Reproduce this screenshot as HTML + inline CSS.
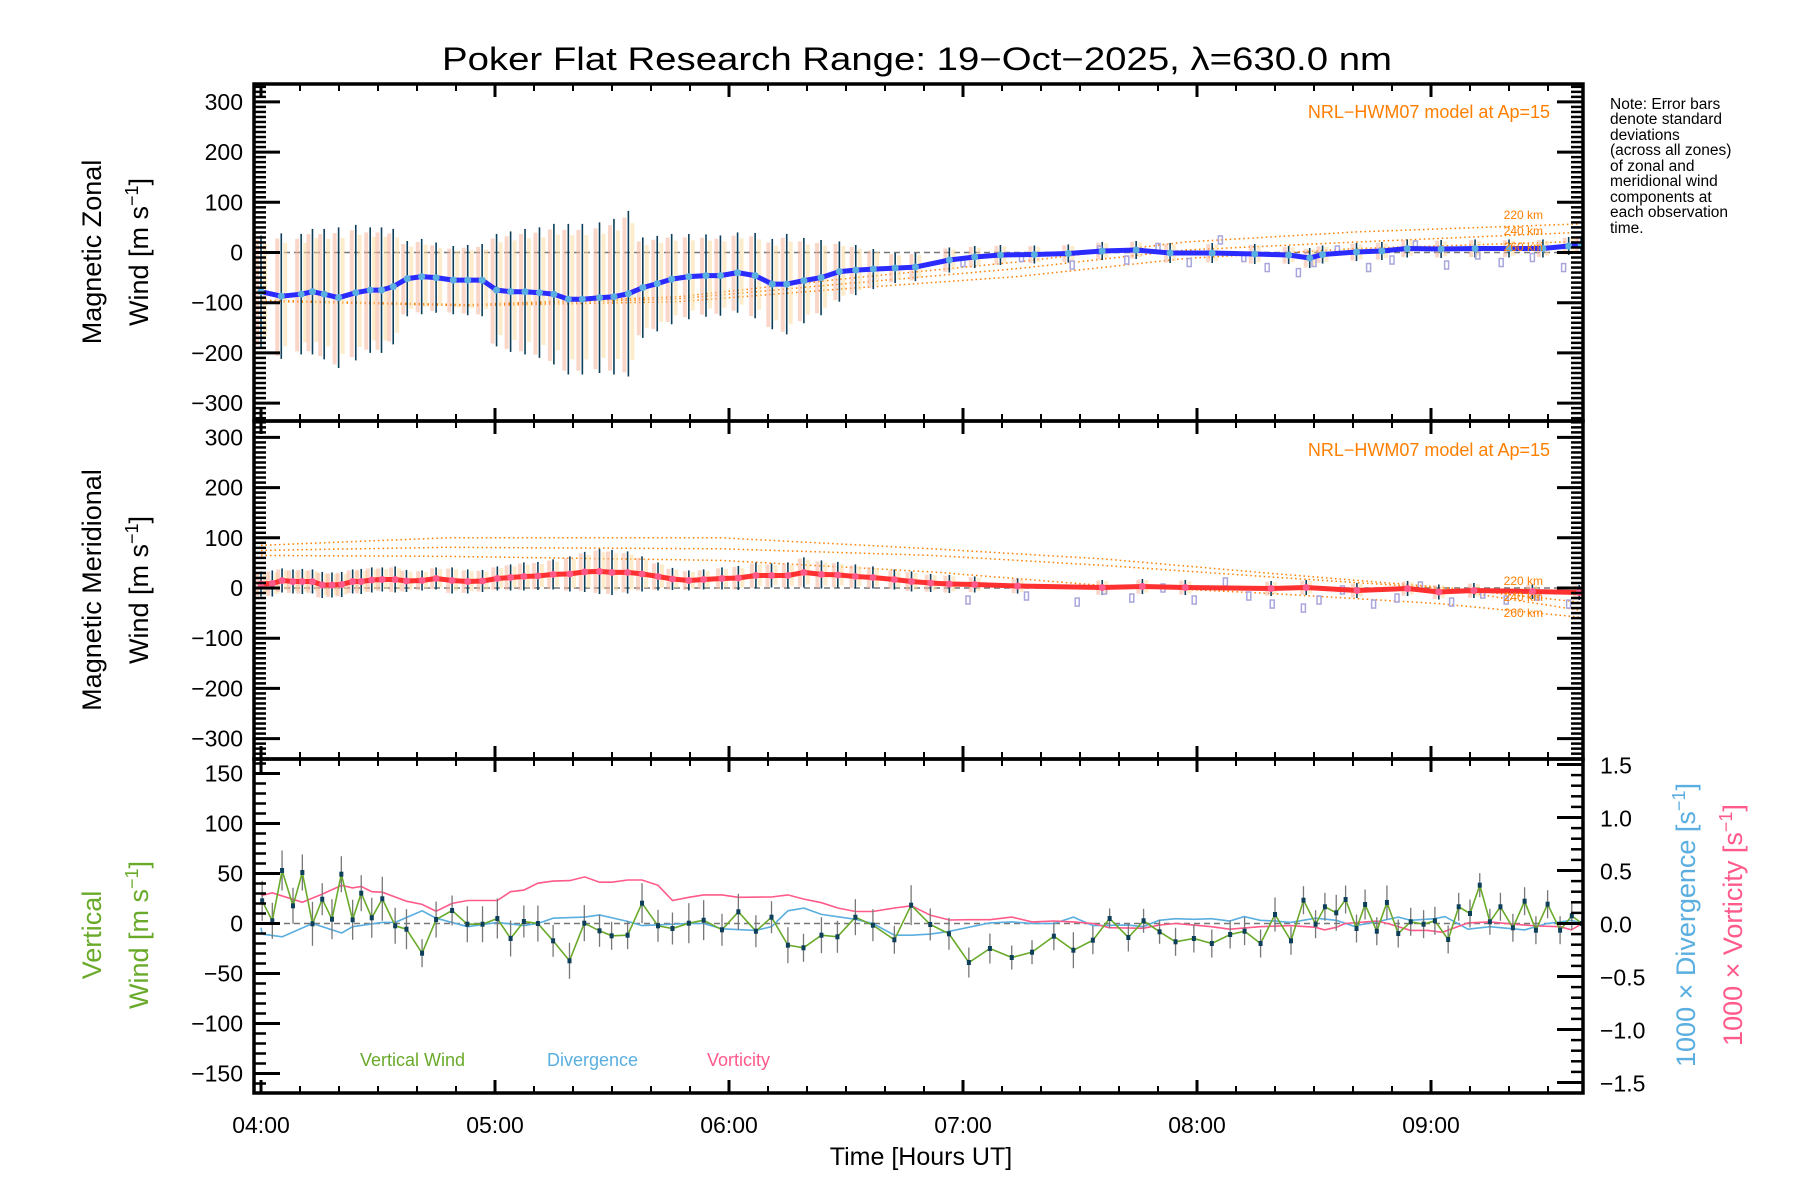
<!DOCTYPE html>
<html><head><meta charset="utf-8"><title>Poker Flat winds</title>
<style>html,body{margin:0;padding:0;background:#fff}svg{display:block;font-family:"Liberation Sans",sans-serif}</style>
</head><body>
<svg id="c" width="1800" height="1200" viewBox="0 0 1800 1200" xmlns="http://www.w3.org/2000/svg">
<text x="917" y="70" font-size="32" text-anchor="middle" textLength="950" lengthAdjust="spacingAndGlyphs">Poker Flat Research Range: 19−Oct−2025, λ=630.0 nm</text>
<g font-size="15.5">
<text x="1610" y="109">Note: Error bars</text><text x="1610" y="124">denote standard</text><text x="1610" y="140">deviations</text><text x="1610" y="155">(across all zones)</text><text x="1610" y="171">of zonal and</text><text x="1610" y="186">meridional wind</text><text x="1610" y="202">components at</text><text x="1610" y="217">each observation</text><text x="1610" y="233">time.</text>
</g>
<g id="marks"></g>
<g id="axes"></g>
</svg>
<script>
// ---- data (minutes after 04:00 UT) ----
const zonT=[0,5.2,10.3,13.2,16.2,19.9,24.3,28,30.9,33.9,37.5,41.2,44.9,49.3,53,56.7,60.4,64,67.7,71.4,75.1,78.8,82.4,86.8,90.5,94.2,97.9,101.6,105.3,109.7,114.1,117.8,122.2,126.7,131.1,134.8,139.2,143.6,148.3,152.5,157,162.6,167.8,176.5,183,189.6,198.3,207,215.7,224.4,233.1,243.9,254.8,263.5,268.9,272.2,280.9,287.4,293.9,302.6,311.3,320,328.7,335.3,338.5];
const zonV=[-78,-87,-83,-78,-83,-90,-80,-75,-75,-68,-52,-48,-50,-55,-55,-55,-75,-78,-78,-80,-83,-93,-93,-90,-88,-82,-70,-62,-53,-48,-46,-46,-40,-46,-63,-63,-56,-50,-38,-35,-33,-31,-29,-15,-9,-5,-4,-2,3,5,-1,-1,-3,-5,-11,-4,1,3,8,7,8,8,8,13,15];
const zonE=[112,125,120,125,130,140,135,125,125,115,75,75,70,68,70,72,112,120,125,130,140,150,150,150,155,165,100,95,90,85,82,80,80,85,90,100,85,75,60,50,40,30,28,25,22,20,18,18,18,18,20,20,20,18,20,18,18,18,18,18,18,18,18,18,18];
const merT=[0,2.9,5.4,8.2,10.6,13.2,15.7,18.2,20.7,23.5,25.7,28.4,31.1,34.4,37.3,41.3,44.9,49,53,56.8,60.6,64,67.4,71,74.9,79.2,83,86.8,90,94,97.7,101.8,105.5,109.7,113.5,118.2,122.4,126.9,130.9,135.1,139.2,143.7,147.9,152.4,156.9,162.4,166.8,171.7,176.5,183,194,215.7,226,237,259,268,281,294,302,311,326,338];
const merV=[8,9,15,13,13,13,6,6,7,13,13,16,17,17,14,15,19,15,13,14,19,21,23,24,27,28,32,33,31,31,28,23,18,15,17,19,20,25,25,25,31,27,26,23,21,17,13,10,8,7,4,1,3,1,-1,1,-5,-1,-8,-5,-7,-9];
const merE=[25,26,24,24,25,24,26,25,25,24,25,25,24,26,22,20,22,26,24,22,24,26,28,28,30,35,40,45,45,42,35,28,22,20,20,22,24,26,24,26,30,28,26,24,22,20,20,18,18,16,15,15,15,15,15,15,15,15,15,15,15,15];
const vwT=[0.3,2.9,5.4,8.2,10.6,13.2,15.7,18.2,20.6,23.5,25.7,28.4,31.1,34.4,37.3,41.3,44.9,49,52.9,56.8,60.6,64,67.4,71,74.9,79.1,82.9,86.8,89.9,94,97.7,101.8,105.5,109.7,113.5,118.2,122.4,126.9,130.9,135.1,139.1,143.7,147.8,152.4,156.9,162.4,166.7,171.6,176.4,181.5,186.9,192.5,197.7,203.3,208.3,213.3,217.6,222.4,226.3,230.4,234.5,239.2,243.8,248.5,252.2,256.3,260,264.1,267.3,270.4,272.8,275.7,278.1,280.9,283.1,286.1,288.7,291.6,294.8,298.1,301,304.4,307.1,310,312.5,315.1,317.8,321,324,326.9,329.9,333.1,336.1,338.7];
const vwV=[22.7,2.7,53,17.7,51,-0.3,24.3,4.3,49.3,3.7,30.3,5.7,24.7,-2.3,-5.7,-29.7,4,13,-0.7,-0.7,5,-15,2,0,-17.3,-37.3,0.3,-7.3,-12.3,-11.7,20.3,-2.3,-5,0.3,3.3,-6.3,11.7,-7.7,6.3,-21.7,-24.3,-11.7,-13.3,6.3,-1.7,-16.3,18.3,-1,-10.3,-39,-25,-34,-28.7,-12.7,-26.7,-16.7,5,-14,2.7,-8.3,-18.3,-15,-20,-11,-7.7,-20,9,-17.3,23.3,-0.7,16.7,10.7,24,-5,19,-7.7,21,-10,1.7,-0.7,2.7,-16,16.7,10,38.3,1.7,16.7,-4.3,22.3,-6.7,19.3,-6.7,7.7,0];
const vwE=[20,18,20,18,18,22,16,20,18,20,18,20,22,18,20,14,18,15,18,18,20,18,16,18,16,18,18,16,14,14,20,16,16,20,20,16,18,16,16,18,14,18,16,18,16,14,20,16,16,15,15,12,12,14,18,14,10,14,12,12,14,14,14,14,14,14,17,14,14,14,14,18,14,14,15,14,17,14,14,14,14,14,14,14,12,13,14,14,14,14,14,14,14,7];
const divT=[0,0.3,5.4,13.2,20.7,23.5,31.1,34.4,41.3,44.9,53,60.6,67.4,71,74.9,83,86.8,94,97.7,109.7,113.5,118.2,126.9,130.9,135.1,139.2,143.7,152.4,156.9,162.4,166.8,171.7,176.5,186.9,192.5,197.7,203.3,208.3,213.3,222.4,226.2,230.3,234.5,239.2,243.7,248.4,252.1,256.2,259.9,264,270.4,275.7,280.1,286,291.6,294.8,301,303.6,309.5,315.1,321,324,329.8,333.1,336,339];
const divV=[-0.04,-0.1,-0.125,0,-0.09,-0.03,0.01,0.01,0.12,0.05,-0.03,0.01,-0.02,0,0.05,0.06,0.08,0.02,-0.02,0,0,-0.05,-0.065,-0.03,0.12,0.145,0.086,0.04,0,-0.11,-0.11,-0.1,-0.074,0.006,0.015,0,0,0.06,-0.02,-0.015,-0.03,0.03,0.045,0.04,0.045,0.024,0.065,0.03,0.024,0.01,0.05,0.03,-0.024,0.015,0.06,0.03,0.045,0.065,-0.054,-0.03,-0.05,-0.06,0,0.015,0.03,0];
const vorT=[0,0.3,2.9,10.6,15.7,20.7,23.5,25.7,28.4,31.1,37.3,41.3,44.9,49,53,60.6,64,67.4,71,74.9,79.2,83,86.8,90,94,97.7,101.8,105.5,109.7,113.5,118.2,122.4,130.9,135.1,139.2,143.7,147.9,152.4,156.9,162.4,166.8,171.7,176.5,181.5,186.9,192.5,197.7,203.3,208.3,213.3,217.5,226.2,230.3,234.5,239.2,243.7,248.4,256.2,264,270.4,272.7,275.7,278,286,288.9,294.8,299.2,302.9,309.5,315.1,321,327.2,333.1,336,339];
const vorV=[0.277,0.265,0.29,0.2,0.277,0.36,0.336,0.35,0.3,0.295,0.21,0.18,0.116,0.19,0.217,0.217,0.3,0.315,0.38,0.4,0.405,0.44,0.39,0.39,0.41,0.41,0.36,0.217,0.247,0.27,0.27,0.247,0.25,0.27,0.23,0.196,0.146,0.113,0.113,0.146,0.167,0.077,0.033,0.036,0.036,0.06,0.015,0.024,0.015,0,-0.04,-0.045,-0.015,0,-0.015,-0.03,-0.054,-0.03,-0.02,-0.036,-0.06,-0.036,0,0.024,0,-0.065,-0.065,-0.083,0.006,0.015,-0.006,-0.024,-0.03,-0.06,0.006];
const modT=[0,53,107,150,194,237,281,338];
const mz220=[-95,-104,-88,-52,-19,21,41,57];
const mz240=[-96,-105,-92,-62,-32,5,21,40];
const mz260=[-97,-106,-98,-72,-48,-12,8,22];
const modMT=[0,48,118,172,216,259,302,338];
const mm220=[85,100,100,78,58,29,2,-28];
const mm240=[75,81,78,65,45,22,0,-44];
const mm260=[65,63,55,32,5,-11,-31,-58];
const purT=[180,195,208,215,222,230,238,246,252,258,266,270,276,284,290,296,304,312,318,326,334];
const purV=[-20,-10,-25,5,-15,10,-20,25,-10,-30,-40,-20,5,-30,-15,15,-25,-5,-20,-10,-30];
const xTickLabels=["04:00","05:00","06:00","07:00","08:00","09:00"];
const zTickLabels=["300","200","100","0","−100","−200","−300"];
const vTickLabels=["150","100","50","0","−50","−100","−150"];
const rTickLabels=["1.5","1.0","0.5","0.0","−0.5","−1.0","−1.5"];

// ---- scales ----
const L=254,R=1583;
const X=m=>Math.max(L,Math.min(R,261+m*3.9));
const P1={top:84,bot:421,y:v=>252.5-v*0.502};
const P2={top:421,bot:759,y:v=>588-v*0.502};
const P3={top:759,bot:1093,y:v=>923.5-v*1.0,yr:v=>923.5-v*106};
const NS="http://www.w3.org/2000/svg";
const marks=document.getElementById('marks'),axes=document.getElementById('axes');
function mk(tag,attrs,parent){const e=document.createElementNS(NS,tag);for(const k in attrs)e.setAttribute(k,attrs[k]);(parent||marks).appendChild(e);return e;}
function pts(T,V,y){return T.map((t,i)=>X(t).toFixed(1)+','+y(V[i]).toFixed(1)).join(' ');}

const defs=mk('defs',{});
[P1,P2,P3].forEach((p,i)=>{const c=mk('clipPath',{id:'cp'+i},defs);mk('rect',{x:L,y:p.top,width:R-L,height:p.bot-p.top},c);});

[P1,P2].forEach((p,i)=>{const z=mk('line',{x1:L,x2:R,y1:p.y(0),y2:p.y(0),stroke:'#777','stroke-width':1.5,'stroke-dasharray':'6,4'});

});
const z3=mk('line',{x1:L,x2:R,y1:P3.y(0),y2:P3.y(0),stroke:'#777','stroke-width':1.5,'stroke-dasharray':'6,4'});



function model(T,V,p,idx,name){const g=mk('polyline',{points:pts(T,V,p.y),fill:'none',stroke:'#ff7f00','stroke-width':1.5,'stroke-dasharray':'1.5,3','clip-path':'url(#cp'+idx+')'});

}
model(modT,mz220,P1,0,'model-zonal-220km');model(modT,mz240,P1,0,'model-zonal-240km');model(modT,mz260,P1,0,'model-zonal-260km');
model(modMT,mm220,P2,1,'model-meridional-220km');model(modMT,mm240,P2,1,'model-meridional-240km');model(modMT,mm260,P2,1,'model-meridional-260km');

function errs(T,V,E,p,idx,name){T.forEach((t,i)=>{const x=X(t);
 const f=mk('rect',{x:x-6,y:p.y(V[i]+E[i]*0.92),width:4,height:Math.max(1,p.y(V[i]-E[i]*0.95)-p.y(V[i]+E[i]*0.92)),fill:'#f6b49c',opacity:0.55,'clip-path':'url(#cp'+idx+')'});
 
 
 const f2=mk('rect',{x:x+2,y:p.y(V[i]+E[i]*0.85),width:4,height:Math.max(1,p.y(V[i]-E[i]*0.8)-p.y(V[i]+E[i]*0.85)),fill:'#fbdca0',opacity:0.55,'clip-path':'url(#cp'+idx+')'});
 
 
 const l=mk('line',{x1:x,x2:x,y1:p.y(V[i]+E[i]),y2:p.y(V[i]-E[i]),stroke:'#0d3f5a','stroke-width':1.6,'clip-path':'url(#cp'+idx+')'});
 
 });}
errs(zonT,zonV,zonE,P1,0,'zonal');
errs(merT,merV,merE,P2,1,'meridional');
purT.forEach((t,i)=>{const r=mk('rect',{x:X(t)-2,y:P1.y(purV[i])-4,width:4,height:8,fill:'none',stroke:'#a9a6dc','stroke-width':1.5});


const r2=mk('rect',{x:X(t)+3,y:P2.y(purV[i]*0.8-8)-4,width:4,height:8,fill:'none',stroke:'#a9a6dc','stroke-width':1.5});

});

const zl=mk('polyline',{points:pts(zonT,zonV,P1.y),fill:'none',stroke:'#2b2bff','stroke-width':5,'stroke-linejoin':'round'});


zonT.forEach((t,i)=>{const c=mk('circle',{cx:X(t),cy:P1.y(zonV[i]),r:3.5,fill:'#5aaee0'});

});
const ml=mk('polyline',{points:pts(merT,merV,P2.y),fill:'none',stroke:'#ff3030','stroke-width':5,'stroke-linejoin':'round'});


merT.forEach((t,i)=>{const c=mk('circle',{cx:X(t),cy:P2.y(merV[i]),r:3.5,fill:'#ff5a8a'});

});

const vl=mk('polyline',{points:pts(divT,divV,P3.yr),fill:'none',stroke:'#5aaee0','stroke-width':1.6});


const vo=mk('polyline',{points:pts(vorT,vorV,P3.yr),fill:'none',stroke:'#ff5a8a','stroke-width':1.6});


vwT.forEach((t,i)=>{const l=mk('line',{x1:X(t),x2:X(t),y1:P3.y(vwV[i]+vwE[i]),y2:P3.y(vwV[i]-vwE[i]),stroke:'#777','stroke-width':1.3});

});
const gl=mk('polyline',{points:pts(vwT,vwV,P3.y),fill:'none',stroke:'#6aaa2a','stroke-width':1.6});


vwT.forEach((t,i)=>{const r=mk('rect',{x:X(t)-2,y:P3.y(vwV[i])-2.5,width:4,height:5,fill:'#0d3f5a'});

});

// ---- axes ----
function A(tag,attrs){return mk(tag,attrs,axes);}
function line(x1,y1,x2,y2,w){return A('line',{x1,y1,x2,y2,stroke:'#000','stroke-width':w||2});}
[P1,P2,P3].forEach((p,pi)=>{
 const fr=A('rect',{x:L,y:p.top,width:R-L,height:p.bot-p.top,fill:'none',stroke:'#000','stroke-width':3.5});
 
 
 for(let m=0;m<=340;m+=10){const x=X(m);const maj=m%60===0;const len=maj?13:7;
  line(x,p.top,x,p.top+len,maj?3:2);line(x,p.bot,x,p.bot-len,maj?3:2);}
});
[P1,P2].forEach(p=>{for(let v=-330;v<=330;v+=10){const y=p.y(v);if(y<p.top+1||y>p.bot-1)continue;const maj=v%100===0;const len=maj?26:12;
 line(L,y,L+len,y,maj?3:2.5);line(R,y,R-len,y,maj?3:2.5);}});
for(let v=-160;v<=160;v+=10){const y=P3.y(v);if(y<P3.top+1||y>P3.bot-1)continue;const maj=v%50===0;line(L,y,L+(maj?26:12),y,maj?3:2.5);}
for(let k=-15;k<=15;k++){const y=P3.yr(k/10);const maj=k%5===0;line(R,y,R-(maj?26:12),y,maj?3:2.5);}
function tl(x,y,s,anchor,name,fill){const t=A('text',{x,y,'font-size':23,'text-anchor':anchor,fill:fill||'#000'});t.textContent=s;
 
 return t;}
[P1,P2].forEach((p,pi)=>zTickLabels.forEach((s,i)=>tl(243,p.y(300-100*i)+8,s,'end','y-tick-label')));
vTickLabels.forEach((s,i)=>tl(243,P3.y(150-50*i)+8,s,'end','y-tick-label'));
rTickLabels.forEach((s,i)=>tl(1600,P3.yr(1.5-0.5*i)+9,s,'start','right-tick-label'));
xTickLabels.forEach((s,i)=>tl(X(60*i),1133,s,'middle','x-tick-label'));
const xt=tl(921,1165,'Time [Hours UT]','middle','x-axis-title');xt.setAttribute('font-size','25');
function yt(x,y,s,name,fill){const t=A('text',{x:0,y:0,'font-size':27,'text-anchor':'middle',fill:fill||'#000',transform:`translate(${x},${y}) rotate(-90)`});t.innerHTML=s;
 
 }
const sup='[m s<tspan dy="-10" font-size="18">−1</tspan><tspan dy="10">]</tspan>';
yt(101,252,'Magnetic Zonal','y-axis-title-zonal');yt(148,252,'Wind '+sup,'y-axis-title-zonal-units');
yt(101,590,'Magnetic Meridional','y-axis-title-meridional');yt(148,590,'Wind '+sup,'y-axis-title-meridional-units');
yt(101,935,'Vertical','y-axis-title-vertical','#6aaa2a');yt(148,935,'Wind '+sup,'y-axis-title-vertical-units','#6aaa2a');
const sup2='[s<tspan dy="-10" font-size="18">−1</tspan><tspan dy="10">]</tspan>';
yt(1695,925,'1000 × Divergence '+sup2,'right-axis-title-divergence','#5aaee0');
yt(1742,925,'1000 × Vorticity '+sup2,'right-axis-title-vorticity','#ff5a8a');
function ot(x,y,s,fs,name){const t=A('text',{x,y,'font-size':fs,'text-anchor':'end',fill:'#ff7f00'});t.textContent=s;
 
 }
ot(1550,118,'NRL−HWM07 model at Ap=15',18,'model-label');ot(1550,456,'NRL−HWM07 model at Ap=15',18,'model-label');
ot(1543,219,'220 km',12,'altitude-label');ot(1543,235,'240 km',12,'altitude-label');ot(1543,251,'260 km',12,'altitude-label');
ot(1543,585,'220 km',12,'altitude-label');ot(1543,601,'240 km',12,'altitude-label');ot(1543,617,'260 km',12,'altitude-label');
function lg(x,s,fill,name){const t=A('text',{x,y:1066,'font-size':18,fill});t.textContent=s;
 
 }
lg(360,'Vertical Wind','#6aaa2a','legend-vertical-wind');lg(547,'Divergence','#5aaee0','legend-divergence');lg(707,'Vorticity','#ff5a8a','legend-vorticity');
</script>
</body></html>
